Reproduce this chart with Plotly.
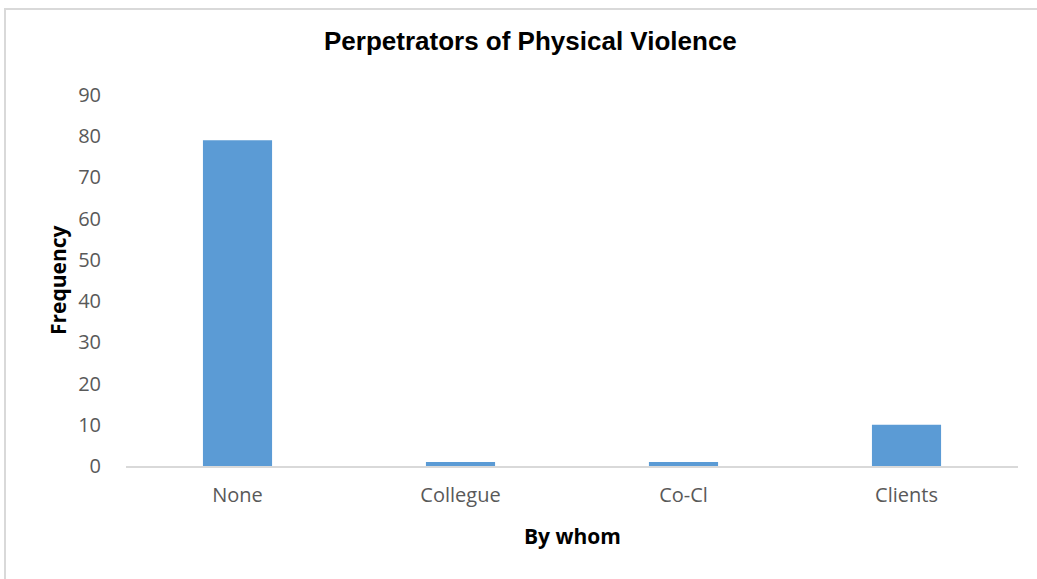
import plotly.graph_objects as go

categories = ["None", "Collegue", "Co-Cl", "Clients"]
frequency = [79, 1, 1, 10]
y_ticks = [0, 10, 20, 30, 40, 50, 60, 70, 80, 90]

W, H = 1037, 579
L, R, T, B = 126, 19, 95, 113
pw, ph = W - L - R, H - T - B

def px_x(px):
    return (px - L) / pw

def px_y(py):
    return (H - B - py) / ph

fig = go.Figure(go.Bar(x=categories, y=frequency, marker=dict(color="#5B9BD5", line=dict(width=0))))

fig.update_layout(
    width=W, height=H,
    margin=dict(l=L, r=R, t=T, b=B),
    paper_bgcolor="white", plot_bgcolor="white",
    bargap=0.69,
    showlegend=False,
    font=dict(family="Open Sans", color="#595959", size=20),
)
fig.update_xaxes(
    showline=True, linecolor="#D9D9D9", linewidth=2,
    showgrid=False, zeroline=False,
    ticks="outside", ticklen=0, ticklabelstandoff=10,
    tickfont=dict(family="Open Sans", size=20, color="#595959"),
)
fig.update_yaxes(
    range=[0, 90], tickvals=y_ticks,
    showline=False, showgrid=False, zeroline=False,
    ticks="outside", ticklen=0, ticklabelstandoff=20,
    tickfont=dict(family="Open Sans", size=20, color="#595959"),
)

fig.add_annotation(text="<b>Perpetrators of Physical Violence</b>", xref="paper", yref="paper",
                   x=px_x(530), y=px_y(41), showarrow=False, xanchor="center", yanchor="middle",
                   font=dict(family="Liberation Sans, Arial", size=26, color="black"))
fig.add_annotation(text="<b>By whom</b>", xref="paper", yref="paper",
                   x=px_x(572), y=px_y(536), showarrow=False, xanchor="center", yanchor="middle",
                   font=dict(family="Open Sans", size=21, color="black"))
fig.add_annotation(text="<b>Frequency</b>", xref="paper", yref="paper", textangle=-90,
                   x=px_x(58), y=px_y(280), showarrow=False, xanchor="center", yanchor="middle",
                   font=dict(family="Open Sans", size=21, color="black"))

fig.add_shape(type="rect", xref="paper", yref="paper",
              x0=px_x(5), x1=px_x(1100), y0=px_y(700), y1=px_y(9),
              line=dict(color="#D9D9D9", width=2), fillcolor="rgba(0,0,0,0)", layer="below")

fig.write_html("out.html")
